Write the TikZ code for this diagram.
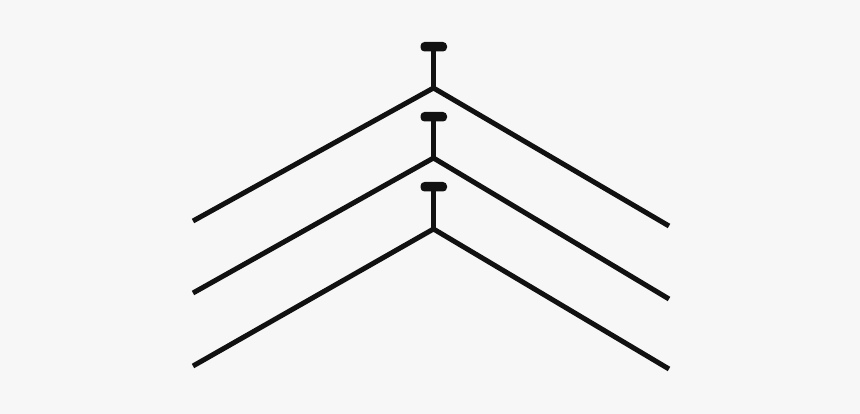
\documentclass[tikz,border=0pt]{standalone}
\usepackage{tikz}

\definecolor{paper}{HTML}{F7F7F7}
\definecolor{rod}{HTML}{111111}

\tikzset{
	rodline/.style={draw=rod, line width=5pt, line cap=butt, line join=miter, miter limit=20},
	stemline/.style={draw=rod, line width=4.6pt},
	capbox/.style={fill=rod, rounded corners=4pt},
}

\begin{document}
\begin{tikzpicture}[x=1pt, y=-1pt]
	% background and page size
	\fill[paper] (0,0) rectangle (860,414);
	\useasboundingbox (0,0) rectangle (860,414);

	% three hanging chevrons: top of cap, apex, left end, right end
	\foreach \n/\cy/\ay/\ly/\ry in {1/42/88/221/226, 2/112/158/293/299, 3/182/229/366/369} {
		\coordinate (apex\n) at (433.5,\ay);
		\coordinate (left\n) at (193,\ly);
		\coordinate (right\n) at (669,\ry);
		\coordinate (cap\n) at (433.5,\cy+8);
		\draw[rodline] (left\n) -- (apex\n) -- (right\n);
		\draw[stemline] (cap\n) -- (apex\n);
		\fill[capbox] (420.5,\cy) rectangle (447,\cy+9.5);
	}
\end{tikzpicture}
\end{document}
